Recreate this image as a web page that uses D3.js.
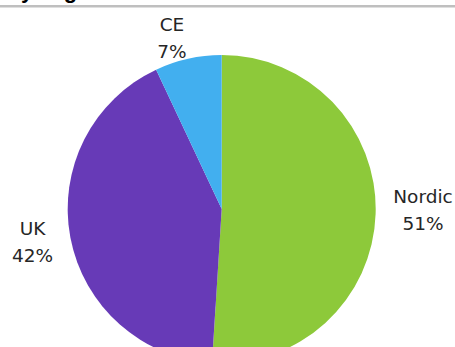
<!DOCTYPE html>
<html><head><meta charset="utf-8">
<script src="https://cdn.jsdelivr.net/npm/d3@7"></script>
<style>body{margin:0;background:#fff}</style>
</head><body>
<svg id="c" width="455" height="347"></svg>
<script>
const categories = ["Nordic", "UK", "CE"];
const shares = [51, 42, 7];
const colors = ["#8DC93A", "#673AB7", "#42AFEF"];

const svg = d3.select("#c");
const cx = 221.7, cy = 209, r = 154;

// Heading sits mostly above the top edge; only its descenders show
svg.append("text").attr("x", 5).attr("y", -2)
  .attr("font-family", "Liberation Sans, Arial, sans-serif")
  .attr("font-weight", "bold").attr("font-size", 22).attr("fill", "#000")
  .text("By segment");

svg.append("rect").attr("x", 0).attr("y", 5).attr("width", 455).attr("height", 2.5).attr("fill", "#BFBFBF");

const pie = d3.pie().sort(null).value(d => d)(shares);
const arc = d3.arc().innerRadius(0).outerRadius(r);
const g = svg.append("g").attr("transform", `translate(${cx},${cy})`);
g.selectAll("path").data(pie).join("path")
  .attr("d", arc).attr("fill", (d, i) => colors[i]);

const labelPos = [[423, 203], [32.5, 235], [172, 31]];
const font = "DejaVu Sans, sans-serif";
categories.forEach((c, i) => {
  const t = svg.append("text").attr("text-anchor", "middle")
    .attr("font-family", font).attr("font-size", 18.5).attr("fill", "#262626");
  t.append("tspan").attr("x", labelPos[i][0]).attr("y", labelPos[i][1]).text(c);
  t.append("tspan").attr("x", labelPos[i][0]).attr("y", labelPos[i][1] + 27).text(shares[i] + "%");
});
</script>
</body></html>
